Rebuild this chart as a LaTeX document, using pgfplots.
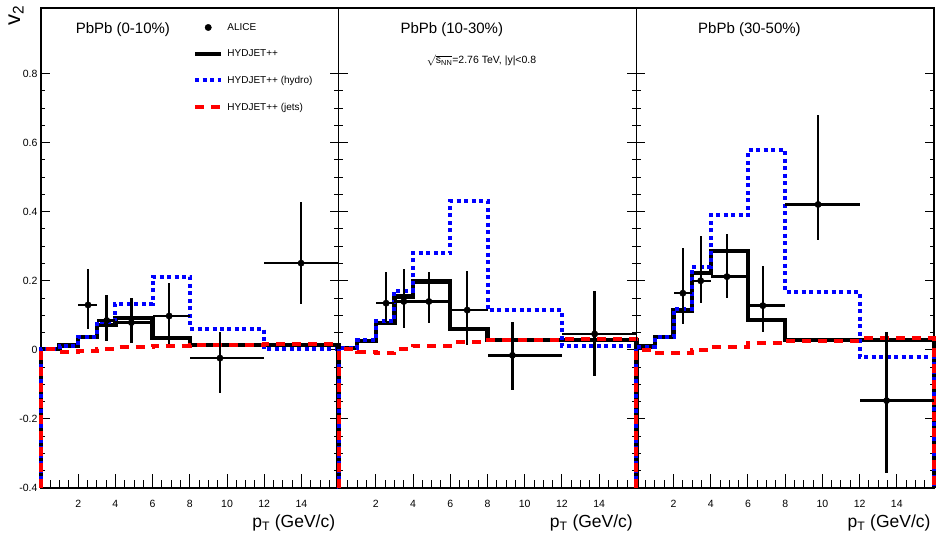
\documentclass[border=0pt]{standalone}
\usepackage{fontspec}
\setmainfont{Liberation Sans}
\usepackage{pgfplots}
\pgfplotsset{compat=1.18}
\usetikzlibrary{calc}

\pgfplotsset{
  panel/.style={
    scale only axis, width=297.7pt, height=480pt,
    xmin=0, xmax=16, ymin=-0.4, ymax=0.99,
    xtick={0,2,...,16}, xticklabels={,2,4,6,8,10,12,14,},
    ytick={-0.4,-0.2,0,0.2,0.4,0.6,0.8},
    minor x tick num=3, minor y tick num=3,
    tick align=inside, xtick pos=bottom, ytick pos=both,
    major tick length=9pt, minor tick length=4.5pt,
    major x tick style={/pgfplots/major tick length=14pt},
    minor x tick style={/pgfplots/minor tick length=7.5pt},
    tick style={black, line width=1pt},
    axis line style={line width=1.5pt},
    clip=false,
    ticklabel style={font=\fontsize{10.5}{12}\selectfont},
    xticklabel style={yshift=-9pt},
    /pgf/number format/assume math mode=true,
    xlabel={p\textsubscript{T} (GeV/c)},
    xlabel style={at={(rel axis cs:1,0)}, anchor=base east, yshift=-40pt, font=\fontsize{17.5}{20}\selectfont},
  },
  hyd/.style={const plot, black, line width=4.4pt, line join=miter},
  hydro/.style={const plot, blue, line width=4pt, dash pattern=on 4pt off 3.5pt},
  jets/.style={const plot, red, line width=4pt, dash pattern=on 9pt off 7pt},
  alice/.style={only marks, black, mark=*, mark size=3.2pt,
    error bars/.cd, x dir=both, x explicit, y dir=both, y explicit,
    error mark=none, error bar style={line width=2.4pt, black}},
}

\begin{document}
\begin{tikzpicture}

% ---------------- 0-10% ----------------
\begin{axis}[panel, name=a1,
  legend style={draw=none, fill=none, at={(rel axis cs:0.5,0.977)}, anchor=north west,
    font=\fontsize{10}{12}\selectfont, row sep=14pt, column sep=2pt, cells={anchor=west}},
  legend image code/.code={\draw[#1] (0pt,0pt) -- (26pt,0pt);}]
\addlegendimage{black, legend image code/.code={\fill[black] (13pt,0pt) circle (3.2pt);}}
\addlegendentry{ALICE}
\addlegendimage{black, line width=4.4pt}
\addlegendentry{HYDJET++}
\addlegendimage{blue, line width=4pt, dash pattern=on 4pt off 3.5pt}
\addlegendentry{HYDJET++ (hydro)}
\addlegendimage{red, line width=4pt, dash pattern=on 9pt off 7pt}
\addlegendentry{HYDJET++ (jets)}

\addplot[forget plot, hyd] coordinates {
  (0,-0.4) (0,0.002) (1,0.012) (2,0.038) (3,0.072) (4,0.092) (6,0.034) (8,0.0145) (12,0.0145) (16,0.0145) (16,-0.4)};
\addplot[forget plot, hydro] coordinates {
  (0,-0.4) (0,0.002) (1,0.012) (2,0.038) (3,0.082) (4,0.133) (6,0.212) (8,0.061) (12,0.002) (16,0.002) (16,-0.4)};
\addplot[forget plot, jets] coordinates {
  (0,-0.4) (0,0.002) (1,-0.005) (2,-0.004) (3,0.002) (4,0.007) (6,0.0125) (8,0.0145) (12,0.016) (16,0.016) (16,-0.4)};
\addplot[forget plot, alice] coordinates {
  (2.53,0.130)  += (0.47,0.104) -= (0.53,0.069)
  (3.53,0.085)  += (0.47,0.074) -= (0.53,0.059)
  (4.86,0.079)  += (1.14,0.072) -= (0.86,0.060)
  (6.89,0.098)  += (1.11,0.097) -= (0.89,0.082)
  (9.62,-0.024) += (2.38,0.077) -= (1.62,0.101)
  (13.98,0.251) += (2.02,0.178) -= (1.98,0.118)};

\node[font=\fontsize{15}{18}\selectfont] at (rel axis cs:0.275,0.954) {PbPb (0-10\%)};
\node[rotate=90, anchor=east, font=\fontsize{22}{26}\selectfont] at ($(rel axis cs:0,1)+(-25pt,6pt)$) {v\textsubscript{2}};
\end{axis}

% ---------------- 10-30% ----------------
\begin{axis}[panel, name=a2, at={(a1.south east)}, anchor=south west, yticklabels={}]
\addplot[hyd] coordinates {
  (0,-0.4) (0,0.005) (1,0.026) (2,0.077) (3,0.154) (4,0.198) (6,0.060) (8,0.029) (12,0.029) (16,0.029) (16,-0.4)};
\addplot[hydro] coordinates {
  (0,-0.4) (0,0.005) (1,0.028) (2,0.084) (3,0.171) (4,0.280) (6,0.431) (8,0.114) (12,0.012) (16,0.012) (16,-0.4)};
\addplot[jets] coordinates {
  (0,-0.4) (0,0.003) (1,-0.005) (2,-0.010) (3,0.002) (4,0.0125) (6,0.022) (8,0.029) (12,0.031) (16,0.031) (16,-0.4)};
\addplot[alice] coordinates {
  (2.55,0.135)  += (0.45,0.090) -= (0.55,0.053)
  (3.50,0.140)  += (0.50,0.094) -= (0.50,0.077)
  (4.85,0.140)  += (1.15,0.086) -= (0.85,0.063)
  (6.91,0.115)  += (1.09,0.114) -= (0.91,0.101)
  (9.34,-0.016) += (2.66,0.098) -= (1.34,0.100)
  (13.76,0.046) += (2.24,0.123) -= (1.76,0.121)};

\node[font=\fontsize{15}{18}\selectfont] at (rel axis cs:0.38,0.954) {PbPb (10-30\%)};
\node[font=\fontsize{10.5}{12}\selectfont] at (rel axis cs:0.48,0.89) {$\sqrt{\mbox{s\textsubscript{NN}}}$=2.76 TeV, |y|<0.8};
\end{axis}

% ---------------- 30-50% ----------------
\begin{axis}[panel, name=a3, at={(a2.south east)}, anchor=south west, yticklabels={}]
\addplot[hyd] coordinates {
  (0,-0.4) (0,0.0096) (1,0.038) (2,0.114) (3,0.222) (4,0.287) (6,0.087) (8,0.029) (12,0.029) (16,0.029) (16,-0.4)};
\addplot[hydro] coordinates {
  (0,-0.4) (0,0.0096) (1,0.038) (2,0.118) (3,0.241) (4,0.390) (6,0.578) (8,0.167) (12,-0.021) (16,-0.021) (16,-0.4)};
\addplot[jets] coordinates {
  (0,-0.4) (0,0.0) (1,-0.008) (2,-0.010) (3,0.0) (4,0.0096) (6,0.019) (8,0.027) (12,0.033) (16,0.033) (16,-0.4)};
\addplot[alice] coordinates {
  (2.50,0.164)  += (0.50,0.130) -= (0.50,0.090)
  (3.46,0.200)  += (0.54,0.131) -= (0.46,0.065)
  (4.87,0.212)  += (1.13,0.123) -= (0.87,0.063)
  (6.80,0.128)  += (1.20,0.115) -= (0.80,0.075)
  (9.77,0.421)  += (2.23,0.258) -= (1.77,0.103)
  (13.45,-0.147) += (2.55,0.200) -= (1.45,0.210)};

\node[font=\fontsize{15}{18}\selectfont] at (rel axis cs:0.38,0.954) {PbPb (30-50\%)};
\end{axis}

\pgfresetboundingbox
\path ($(a1.south west)+(-41pt,-50pt)$) rectangle ($(a3.north east)+(3pt,8pt)$);
\end{tikzpicture}
\end{document}
